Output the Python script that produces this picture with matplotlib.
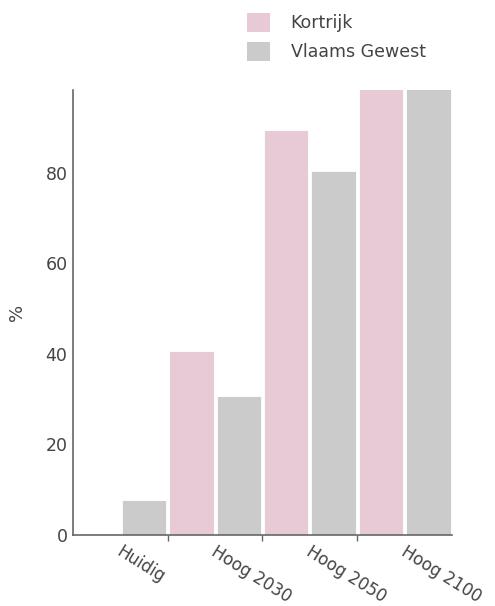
import numpy as np
import matplotlib.pyplot as plt
from matplotlib.patches import Patch

categories = ["Huidig", "Hoog 2030", "Hoog 2050", "Hoog 2100"]
kortrijk = [0.3, 40.7, 89.5, 100]
vlaams = [7.7, 30.7, 80.4, 100]
series_names = ["Kortrijk", "Vlaams Gewest"]

pink = "#e8cad6"
grey = "#cbcbcb"
text_col = "#444444"

fig = plt.figure(figsize=(4.95, 6.06), dpi=100)
ax = fig.add_axes([0.1475, 0.1172, 0.7655, 0.7343])

x = np.arange(len(categories))
w = 0.47
ax.bar(x - 0.25, kortrijk, w, color=pink, edgecolor="white", linewidth=0.6)
ax.bar(x + 0.25, vlaams, w, color=grey, edgecolor="white", linewidth=0.6)

ax.set_xlim(-0.5, len(categories) - 0.5)
ax.set_ylim(0, 98.3)
ax.set_yticks([0, 20, 40, 60, 80])
ax.tick_params(axis="y", length=0, labelsize=12.5, colors=text_col, pad=4)

# category labels rotated, ticks at group boundaries
ax.set_xticks(x)
ax.set_xticklabels([])
ax.tick_params(axis="x", length=0)
ax.set_xticks(x[:-1] + 0.5, minor=True)
ax.tick_params(axis="x", which="minor", length=4, color="#666666", width=1)
for xi, lab in zip(x, categories):
    ax.text(xi + 0.03, -1.8, lab, rotation=-32, rotation_mode="anchor",
            ha="left", va="top", fontsize=12, color=text_col)

for s in ["top", "right"]:
    ax.spines[s].set_visible(False)
for s in ["left", "bottom"]:
    ax.spines[s].set_color("#666666")
    ax.spines[s].set_linewidth(1.2)

ax.set_ylabel("%", fontsize=13, color=text_col, labelpad=14)

handles = [Patch(facecolor=pink, edgecolor="none"), Patch(facecolor=grey, edgecolor="none")]
fig.legend(handles, series_names, loc="upper left", bbox_to_anchor=(0.468, 1.004),
           frameon=False, fontsize=12.5, labelcolor=text_col,
           handlelength=1.3, handleheight=1.3, handletextpad=1.2, labelspacing=0.55)

fig.savefig("out.png", dpi=100)
